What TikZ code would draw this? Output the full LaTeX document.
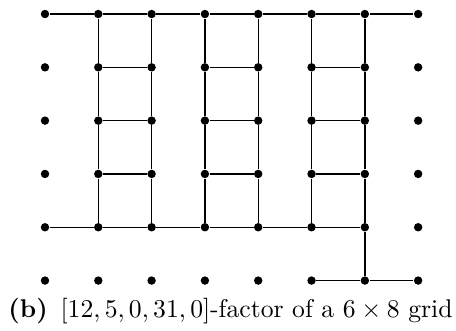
\documentclass[tikz,border=0pt]{standalone}
\usepackage{amsmath}
\usetikzlibrary{positioning}
\tikzset{
  gridpt/.style={circle,fill=black,inner sep=0pt,minimum size=3.6pt},
  gridedge/.style={line width=0.6pt}
}
\begin{document}
\begin{tikzpicture}[x=0.8cm,y=0.8cm]
  \useasboundingbox (-0.844,0.263) rectangle (7.71,-5.93);
  % the 6 x 8 points
  \foreach \r in {1,...,6}{
    \foreach \c in {1,...,8}{
      \node[gridpt] (v\r\c) at (\c-1,1-\r) {};
    }
  }
  % top and bottom paths
  \draw[gridedge] (v11) -- (v12) -- (v13) -- (v14) -- (v15) -- (v16) -- (v17) -- (v18);
  \draw[gridedge] (v51) -- (v52) -- (v53) -- (v54) -- (v55) -- (v56) -- (v57) -- (v67);
  \draw[gridedge] (v66) -- (v67) -- (v68);
  % ladders
  \foreach \c in {2,...,7}{
    \draw[gridedge] (v1\c) -- (v2\c) -- (v3\c) -- (v4\c) -- (v5\c);
  }
  \foreach \r in {2,3,4}{
    \draw[gridedge] (v\r2) -- (v\r3);
    \draw[gridedge] (v\r4) -- (v\r5);
    \draw[gridedge] (v\r6) -- (v\r7);
  }
  \node[anchor=base,font=\fontsize{10.95}{13.6}\selectfont] (cap) at (3.48,-5.70)
    {\textbf{(b)}\enspace$[12,5,0,31,0]$-factor of a $6\times8$ grid};
\end{tikzpicture}
\end{document}
